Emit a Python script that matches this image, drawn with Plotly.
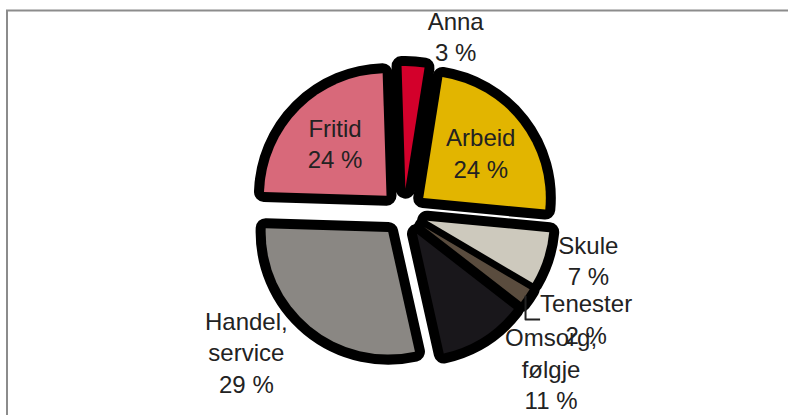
import plotly.graph_objects as go

categories = ["Arbeid", "Skule", "Tenester", "Omsorg,<br>følgje", "Handel,<br>service", "Fritid", "Anna"]
values = [24, 7, 2, 11, 29, 24, 3]
colors = ["#e2b500", "#cdc9bd", "#5a4c3e", "#19171b", "#8a8783", "#d8697a", "#d3002b"]
# Omsorg label is drawn by the shadow layer so it keeps its natural place (overlapping like the original)
text_pos_main = ["inside", "outside", "outside", "none", "outside", "inside", "outside"]
text_pos_shadow = ["none", "none", "none", "outside", "none", "none", "none"]
pulls = [0.2] * 7

labels_txt = [f"{c}<br>{v} %" for c, v in zip(categories, values)]
domain = dict(x=[0.325, 0.700], y=[0.132, 0.841])
font = dict(family="Liberation Sans, Arial, sans-serif", size=24, color="#222222")

fig = go.Figure()
# shadow layer
fig.add_trace(go.Pie(
    labels=categories, values=values, sort=False, direction="clockwise", rotation=9,
    pull=pulls, domain=domain, text=labels_txt, textinfo="text",
    textposition=text_pos_shadow, textfont=font, hoverinfo="skip",
    marker=dict(colors=["#000000"] * 7, line=dict(color="#000000", width=20)),
    showlegend=False, automargin=False,
))
# main pie
fig.add_trace(go.Pie(
    labels=categories, values=values, sort=False, direction="clockwise", rotation=9,
    pull=pulls, domain=domain, text=labels_txt, textinfo="text",
    textposition=text_pos_main, insidetextorientation="horizontal",
    textfont=font,
    marker=dict(colors=colors, line=dict(width=0)),
    showlegend=False, automargin=False,
))

fig.update_layout(
    width=788, height=415,
    margin=dict(l=0, r=0, t=0, b=0),
    paper_bgcolor="white", plot_bgcolor="white",
    shapes=[dict(type="rect", xref="paper", yref="paper",
                 x0=7 / 788, x1=1.2, y0=-0.2, y1=1 - 10.5 / 415,
                 line=dict(color="#8c8c8c", width=2))],
)
fig.write_html("out.html", config={"displayModeBar": False},
               post_script="document.body.style.margin='0';document.body.style.overflow='hidden';")
